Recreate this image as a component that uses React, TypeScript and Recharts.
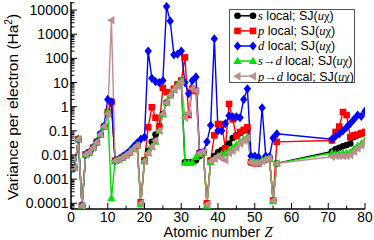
import React from 'react';
import { LineChart, Line, XAxis, YAxis, Legend, Label } from 'recharts';

const Z = [1,2,3,4,5,6,7,8,9,10,11,12,13,14,15,16,17,18,19,20,21,22,23,24,25,26,27,28,29,30,31,32,33,34,35,36,37,38,39,40,41,42,43,44,45,46,47,48,49,50,51,52,53,54,55,56,71,72,73,74,75,76,77,78,79,80];

const sLocal = [0.003,0.045,0.00008,0.0105,0.013,0.02,0.033,0.07,0.15,0.55,1.5,0.0058,0.0065,0.0078,0.01,0.013,0.018,0.025,0.0001,0.006,0.015,0.035,0.07,0.15,0.5,1.5,3,5,8,12,0.005,0.005,0.005,0.006,0.009,0.012,0.0001,0.006,0.009,0.013,0.016,0.02,0.03,0.05,0.065,0.08,0.1,0.12,0.005,0.0048,0.0045,0.006,0.0065,0.007,0.00013,0.0045,0.014,0.017,0.02,0.023,0.026,0.03,0.055,0.065,0.075,0.085];

const pLocal = [0.003,0.045,0.00008,0.0105,0.013,0.02,0.035,0.07,0.15,0.6,1.6,0.0058,0.0065,0.0078,0.01,0.013,0.018,0.025,0.00011,0.006,0.14,0.95,0.35,0.15,6,4,3.5,5.5,8.5,12,110,0.45,5.5,4.5,0.012,0.013,0.0001,0.006,0.065,0.19,0.19,0.019,1.3,0.3,0.06,0.09,0.11,0.14,0.005,0.0045,0.0045,0.006,0.007,0.007,0.00013,0.035,0.04,0.09,0.15,0.6,0.45,0.055,0.065,0.07,0.08,0.09];

const dLocal = [0.003,0.045,0.00008,0.0105,0.013,0.02,0.035,0.075,0.16,2.0,1.6,0.0058,0.0068,0.0085,0.011,0.015,0.022,0.032,0.045,0.055,200,15,11,10,12,14000,3500,140,150,200,10,3.5,12,17,0.012,0.013,0.035,0.17,650,0.1,0.1,0.2,0.42,0.38,0.38,0.35,2,5.5,0.009,0.009,0.008,0.9,0.009,0.0085,0.05,0.075,0.045,0.06,0.075,0.1,0.14,0.2,0.3,0.45,0.4,0.65];

const sdLocal = [0.003,0.045,0.00008,0.0105,0.013,0.02,0.033,0.07,0.15,0.6,0.00016,0.0058,0.0065,0.0078,0.01,0.013,0.018,0.025,0.00009,0.0055,0.012,0.022,0.035,0.1,0.5,1.5,3,5,8,12,0.0048,0.0048,0.005,0.008,0.011,0.013,0.00008,0.005,0.007,0.009,0.011,0.012,0.015,0.02,0.027,0.035,0.045,0.055,0.0055,0.005,0.005,0.006,0.007,0.0075,0.00012,0.0045,0.012,0.011,0.011,0.012,0.012,0.013,0.018,0.024,0.03,0.04];

const pdLocal = [0.003,0.045,0.00008,0.0105,0.013,0.02,0.033,0.07,0.15,0.5,3800,0.0058,0.0065,0.0078,0.01,0.013,0.018,0.025,0.0001,0.0055,0.012,0.022,0.04,0.1,0.5,1.5,3,5,7,11,0.35,0.55,5.5,4.5,0.012,0.013,0.00009,0.0055,0.007,0.009,0.007,0.006,0.012,0.015,0.02,0.03,0.04,0.05,0.005,0.0045,0.0045,0.0055,0.0065,0.007,0.00013,0.0045,0.0085,0.009,0.009,0.009,0.009,0.01,0.014,0.019,0.025,0.035];

const xTicks = [0,5,10,15,20,25,30,35,40,45,50,55,60,65,70,75,80];
const yMajorLabels = ['0.0001','0.001','0.01','0.1','1','10','100','1000','10000'];

const Y_MIN = 5.8e-5;
const Y_MAX = 21600;

const yTicks: number[] = [];
for (let e = -5; e <= 4; e++) {
  for (let m = 1; m <= 9; m++) {
    const v = Number((m * Math.pow(10, e)).toPrecision(3));
    if (v >= Y_MIN && v <= Y_MAX) yTicks.push(v);
  }
}

const data = Z.map((z, i) => ({
  z,
  s: sLocal[i],
  p: pLocal[i],
  d: dLocal[i],
  sd: sdLocal[i],
  pd: pdLocal[i],
}));

const SANS = '"Liberation Sans", Arial, Helvetica, sans-serif';
const SERIF = '"Liberation Serif", "Times New Roman", serif';

const COLORS = {
  s: '#000000',
  p: '#ff0000',
  d: '#0000ff',
  sd: '#00e000',
  pd: '#bc8f8f',
};

type Shape = 'circle' | 'square' | 'diamond' | 'tri' | 'left';

const Marker = ({ cx, cy, shape, color }: { cx: number; cy: number; shape: Shape; color: string }) => {
  if (cx == null || cy == null || isNaN(cx) || isNaN(cy)) return null;
  switch (shape) {
    case 'circle':
      return <circle cx={cx} cy={cy} r={3.3} fill={color} />;
    case 'square':
      return <rect x={cx - 3.3} y={cy - 3.3} width={6.6} height={6.6} fill={color} />;
    case 'diamond':
      return <polygon points={`${cx},${cy - 4.6} ${cx + 3.7},${cy} ${cx},${cy + 4.6} ${cx - 3.7},${cy}`} fill={color} />;
    case 'tri':
      return <polygon points={`${cx},${cy - 4.3} ${cx + 4.2},${cy + 3} ${cx - 4.2},${cy + 3}`} fill={color} />;
    case 'left':
    default:
      return <polygon points={`${cx - 4.3},${cy} ${cx + 3},${cy - 4.2} ${cx + 3},${cy + 4.2}`} fill={color} />;
  }
};

const series: { key: string; dataKey: string; shape: Shape; color: string }[] = [
  { key: 's', dataKey: 's', shape: 'circle', color: COLORS.s },
  { key: 'p', dataKey: 'p', shape: 'square', color: COLORS.p },
  { key: 'd', dataKey: 'd', shape: 'diamond', color: COLORS.d },
  { key: 'sd', dataKey: 'sd', shape: 'tri', color: COLORS.sd },
  { key: 'pd', dataKey: 'pd', shape: 'left', color: COLORS.pd },
];

const legendPrefixes: React.ReactNode[] = [
  <tspan fontFamily={SERIF} fontStyle="italic">s</tspan>,
  <tspan fontFamily={SERIF} fontStyle="italic">p</tspan>,
  <tspan fontFamily={SERIF} fontStyle="italic">d</tspan>,
  <>
    <tspan fontFamily={SERIF} fontStyle="italic">s</tspan>
    <tspan fontFamily={SERIF}>→</tspan>
    <tspan fontFamily={SERIF} fontStyle="italic">d</tspan>
  </>,
  <>
    <tspan fontFamily={SERIF} fontStyle="italic">p</tspan>
    <tspan fontFamily={SERIF}>→</tspan>
    <tspan fontFamily={SERIF} fontStyle="italic">d</tspan>
  </>,
];

const LegendBox = () => {
  const rowY = [6.8, 21.9, 37, 52.1, 67.2];
  return (
    <svg width={126} height={74} style={{ display: 'block' }}>
      <rect x={0.5} y={0.5} width={125} height={73} fill="#fff" stroke="#555" strokeWidth={1} />
      {series.map((s, i) => (
        <g key={s.key}>
          <line x1={8.5} y1={rowY[i]} x2={24} y2={rowY[i]} stroke={s.color} strokeWidth={1.5} />
          <Marker cx={8.5} cy={rowY[i]} shape={s.shape} color={s.color} />
          <Marker cx={24} cy={rowY[i]} shape={s.shape} color={s.color} />
          <text x={29} y={rowY[i] + 4.3} fontSize={12.5} fontFamily={SANS} fill="#000">
            {legendPrefixes[i]}
            <tspan> local; SJ(</tspan>
            <tspan fontFamily={SERIF} fontStyle="italic">u</tspan>
            <tspan fontFamily={SERIF}>χ</tspan>
            <tspan>)</tspan>
          </text>
        </g>
      ))}
    </svg>
  );
};

const XTickBottom = (props: any) => {
  const { x, y, payload } = props;
  const v = payload.value;
  const major = v % 10 === 0;
  return (
    <g>
      <line x1={x} y1={y} x2={x} y2={y - (major ? 6 : 3.5)} stroke="#000" strokeWidth={1} />
      {major && (
        <text x={x} y={y + 12.5} textAnchor="middle" fontSize={13.8} fontFamily={SANS} fill="#000">
          {v}
        </text>
      )}
    </g>
  );
};

const XTickTop = (props: any) => {
  const { x, y, payload } = props;
  const major = payload.value % 10 === 0;
  return <line x1={x} y1={y} x2={x} y2={y + (major ? 6 : 3.5)} stroke="#000" strokeWidth={1} />;
};

const isMajor = (v: number) => {
  const l = Math.log10(v);
  return Math.abs(l - Math.round(l)) < 1e-6;
};

const YTickLeft = (props: any) => {
  const { x, y, payload } = props;
  const v = payload.value;
  const major = isMajor(v);
  const idx = Math.round(Math.log10(v)) + 4;
  return (
    <g>
      <line x1={x} y1={y} x2={x + (major ? 6 : 3.5)} y2={y} stroke="#000" strokeWidth={1} />
      {major && (
        <text x={x - 2.5} y={y + 5} textAnchor="end" fontSize={14} fontFamily={SANS} fill="#000">
          {yMajorLabels[idx]}
        </text>
      )}
    </g>
  );
};

const YTickRight = (props: any) => {
  const { x, y, payload } = props;
  const major = isMajor(payload.value);
  return <line x1={x} y1={y} x2={x - (major ? 6 : 3.5)} y2={y} stroke="#000" strokeWidth={1} />;
};

const YLabel = () => (
  <text
    x={18}
    y={107}
    transform="rotate(-90 18 107)"
    textAnchor="middle"
    fontSize={15.5}
    fontFamily={SANS}
    fill="#000"
  >
    Variance per electron (Ha
    <tspan dy={-6} fontSize={10}>2</tspan>
    <tspan dy={6}>)</tspan>
  </text>
);

const XLabel = () => (
  <text x={218} y={236.6} textAnchor="middle" fontSize={14.4} fontFamily={SANS} fill="#000">
    Atomic number <tspan fontFamily={SERIF} fontStyle="italic">Z</tspan>
  </text>
);

export default function App() {
  return (
    <div style={{ position: 'absolute', left: 0, top: 0, width: 374, height: 240, background: '#fff' }}>
      <LineChart
        width={374}
        height={240}
        data={data}
        margin={{ top: 2, right: 9, left: 0, bottom: 0 }}
      >
        <XAxis
          xAxisId="b"
          dataKey="z"
          type="number"
          domain={[0, 80]}
          ticks={xTicks}
          interval={0}
          tickSize={0}
          tickMargin={0}
          tickLine={false}
          tick={<XTickBottom />}
          height={31}
          axisLine={{ stroke: '#000', strokeWidth: 1.5 }}
          allowDataOverflow
        >
          <Label content={<XLabel />} />
        </XAxis>
        <XAxis
          xAxisId="t"
          orientation="top"
          dataKey="z"
          type="number"
          domain={[0, 80]}
          ticks={xTicks}
          interval={0}
          tickSize={0}
          tickMargin={0}
          tickLine={false}
          tick={<XTickTop />}
          height={0}
          axisLine={{ stroke: '#000', strokeWidth: 1.5 }}
          allowDataOverflow
        />
        <YAxis
          yAxisId="l"
          type="number"
          scale="log"
          domain={[Y_MIN, Y_MAX]}
          ticks={yTicks}
          interval={0}
          tickSize={0}
          tickMargin={0}
          tickLine={false}
          tick={<YTickLeft />}
          width={71}
          axisLine={{ stroke: '#000', strokeWidth: 1.5 }}
          allowDataOverflow
        >
          <Label content={<YLabel />} />
        </YAxis>
        <YAxis
          yAxisId="r"
          orientation="right"
          type="number"
          scale="log"
          domain={[Y_MIN, Y_MAX]}
          ticks={yTicks}
          interval={0}
          tickSize={0}
          tickMargin={0}
          tickLine={false}
          tick={<YTickRight />}
          width={0}
          axisLine={{ stroke: '#000', strokeWidth: 1.5 }}
          allowDataOverflow
        />
        <Legend
          layout="horizontal"
          verticalAlign="middle"
          align="center"
          wrapperStyle={{ position: 'absolute', left: 229, top: 9, width: 126, height: 74 }}
          content={() => <LegendBox />}
        />
        {series.map((s) => (
          <Line
            key={s.key}
            xAxisId="b"
            yAxisId="l"
            dataKey={s.dataKey}
            stroke={s.color}
            strokeWidth={1.4}
            isAnimationActive={false}
            dot={(p: any) => (
              <Marker key={`${s.key}-${p.index}`} cx={p.cx} cy={p.cy} shape={s.shape} color={s.color} />
            )}
            activeDot={false}
          />
        ))}
      </LineChart>
    </div>
  );
}
